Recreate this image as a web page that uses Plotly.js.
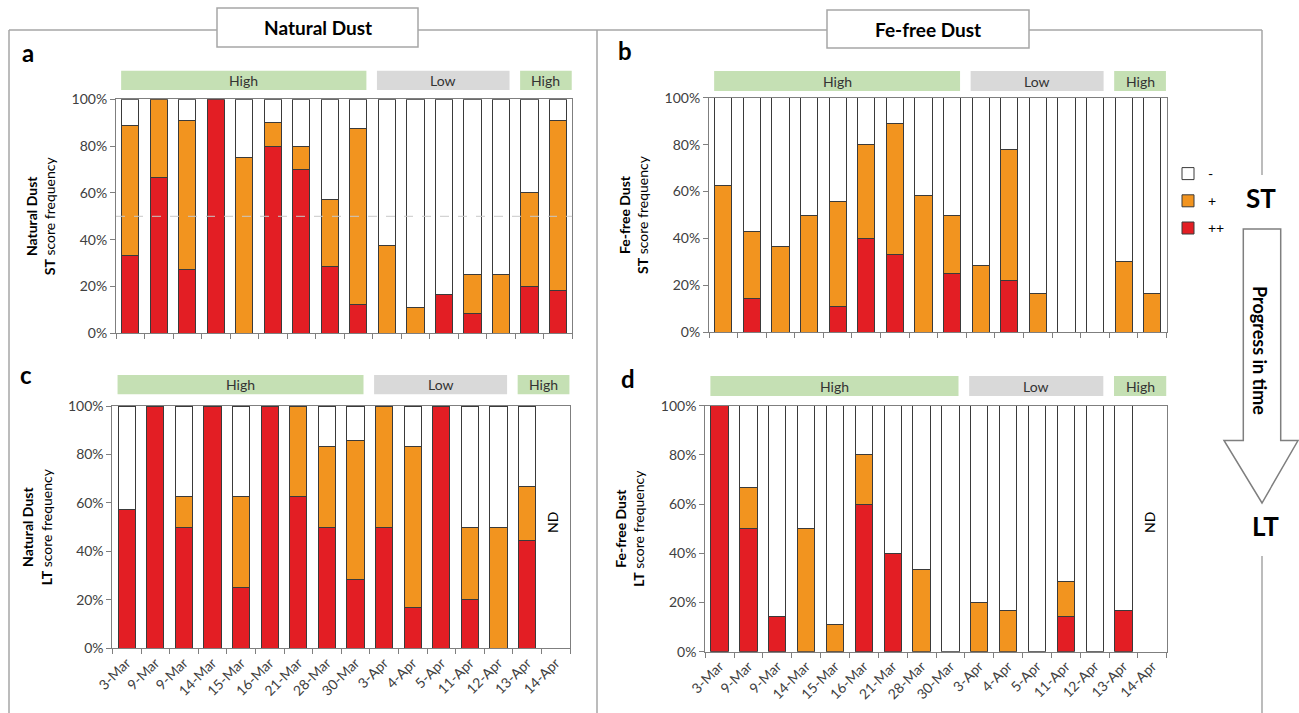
<!DOCTYPE html>
<html><head><meta charset="utf-8">
<script src="https://cdn.plot.ly/plotly-3.0.1.min.js"></script>
<style>html,body{margin:0;padding:0;background:#fff;} #chart{width:1299px;height:713px;}</style>
</head><body><div id="chart"></div>
<script>
// ---------- data ----------
const dates = ['3-Mar','9-Mar','9-Mar','14-Mar','15-Mar','16-Mar','21-Mar','28-Mar','30-Mar','3-Apr','4-Apr','5-Apr','11-Apr','12-Apr','13-Apr','14-Apr'];
const scoreNames = ['++', '+', '-'];
const periodLabels = ['High', 'Low', 'High'];
const yTickVals = [0, 20, 40, 60, 80, 100];
const yTickText = ['0%', '20%', '40%', '60%', '80%', '100%'];

// a: Natural Dust, ST
const natST_pp  = [33.3, 66.7, 27.3, 100, 0, 80, 70, 28.6, 12.5, 0, 0, 16.7, 8.3, 0, 20, 18.2];
const natST_p   = [55.6, 33.3, 63.6, 0, 75, 10, 10, 28.5, 75, 37.5, 11.1, 0, 16.7, 25, 40, 72.7];
const natST_neg = [11.1, 0, 9.1, 0, 25, 10, 20, 42.9, 12.5, 62.5, 88.9, 83.3, 75, 75, 40, 9.1];
// b: Fe-free Dust, ST
const feST_pp  = [0, 14.3, 0, 0, 11.1, 40, 33.3, 0, 25, 0, 22.2, 0, 0, 0, 0, 0];
const feST_p   = [62.5, 28.6, 36.4, 50, 44.5, 40, 55.6, 58.3, 25, 28.6, 55.6, 16.7, 0, 0, 30, 16.7];
const feST_neg = [37.5, 57.1, 63.6, 50, 44.4, 20, 11.1, 41.7, 50, 71.4, 22.2, 83.3, 100, 100, 70, 83.3];
// c: Natural Dust, LT (14-Apr: ND)
const natLT_pp  = [57.1, 100, 50, 100, 25, 100, 62.5, 50, 28.6, 50, 16.7, 100, 20, 0, 44.4, null];
const natLT_p   = [0, 0, 12.5, 0, 37.5, 0, 37.5, 33.3, 57.1, 50, 66.6, 0, 30, 50, 22.3, null];
const natLT_neg = [42.9, 0, 37.5, 0, 37.5, 0, 0, 16.7, 14.3, 0, 16.7, 0, 50, 50, 33.3, null];
// d: Fe-free Dust, LT (14-Apr: ND)
const feLT_pp  = [100, 50, 14.3, 0, 0, 60, 40, 0, 0, 0, 0, 0, 14.3, 0, 16.7, null];
const feLT_p   = [0, 16.7, 0, 50, 11.1, 20, 0, 33.3, 0, 20, 16.7, 0, 14.3, 0, 0, null];
const feLT_neg = [0, 33.3, 85.7, 50, 88.9, 20, 60, 66.7, 100, 80, 83.3, 100, 71.4, 100, 83.3, null];

// ---------- styling / layout helpers ----------
const W = 1299, H = 713;
const px = v => v / W;
const py = v => 1 - v / H;
const FONT = 'Lato, "Open Sans", sans-serif';
const colors = {'++': '#e31e24', '+': '#f2941f', '-': '#ffffff'};
const periodColors = ['#c5e0b4', '#d9d9d9', '#c5e0b4'];
const periodSpans = [[-0.32, 8.28], [8.65, 13.3], [13.67, 15.48]];
const xIdx = dates.map((d, i) => i);
const noZero = arr => arr.map(v => (v === 0 ? null : v)); // empty segments are not drawn

const panels = [
  {ax: '', letter: 'a', data: [natST_pp, natST_p, natST_neg], dom: [116, 572.3], ydom: [99.3, 333.3], lab: [70.7, 90], ytitle: '<b>Natural Dust</b><br><b>ST</b> score frequency', labels: false, letterPos: [28, 52]},
  {ax: '2', letter: 'b', data: [feST_pp, feST_p, feST_neg], dom: [709, 1166.5], ydom: [97.7, 332.3], lab: [71, 91], ytitle: '<b>Fe-free Dust</b><br><b>ST</b> score frequency', labels: false, letterPos: [625, 50]},
  {ax: '3', letter: 'c', data: [natLT_pp, natLT_p, natLT_neg], dom: [112.4, 570], ydom: [406, 648.3], lab: [375, 394.3], ytitle: '<b>Natural Dust</b><br><b>LT</b> score frequency', labels: true, letterPos: [26, 374], nd: [552, 523]},
  {ax: '4', letter: 'd', data: [feLT_pp, feLT_p, feLT_neg], dom: [705.2, 1166.8], ydom: [405.7, 651.7], lab: [376, 396], ytitle: '<b>Fe-free Dust</b><br><b>LT</b> score frequency', labels: true, letterPos: [628, 378], nd: [1149, 523]}
];

const traces = [];
const layout = {
  width: W, height: H,
  margin: {l: 0, r: 0, t: 0, b: 0},
  paper_bgcolor: '#ffffff', plot_bgcolor: '#ffffff',
  barmode: 'stack', bargap: 0.4,
  font: {family: FONT, size: 13, color: '#404040'},
  showlegend: true,
  legend: {x: px(1168), y: py(158), xanchor: 'left', yanchor: 'top', traceorder: 'grouped', tracegroupgap: 6,
           font: {family: FONT, size: 14, color: '#000'}, bgcolor: 'rgba(0,0,0,0)', itemwidth: 30},
  shapes: [], annotations: []
};

panels.forEach((p, k) => {
  const xa = 'x' + p.ax, ya = 'y' + p.ax;
  scoreNames.forEach((name, j) => {
    traces.push({
      type: 'bar', x: xIdx, y: noZero(p.data[j]), name: name, xaxis: xa, yaxis: ya,
      legendgroup: name, legendrank: 3 - j, showlegend: k === 1,
      marker: {color: colors[name], line: {color: '#3a3a3a', width: 1}},
      hovertemplate: '%{y}%<extra>' + name + '</extra>'
    });
  });
  layout['xaxis' + p.ax] = {
    domain: [px(p.dom[0]), px(p.dom[1])], anchor: ya, range: [-0.5, 15.5],
    tickmode: 'array', tickvals: xIdx, ticktext: dates, ticks: '', showticklabels: p.labels,
    tickangle: -45, tickfont: {family: FONT, size: 14, color: '#404040'},
    minor: {tickmode: 'linear', tick0: -0.5, dtick: 1, ticks: 'outside', ticklen: 5, tickcolor: '#7f7f7f', tickwidth: 1},
    showline: true, linecolor: '#7f7f7f', linewidth: 1, mirror: true,
    showgrid: false, zeroline: false, fixedrange: true, automargin: false
  };
  layout['yaxis' + p.ax] = {
    domain: [py(p.ydom[1]), py(p.ydom[0])], anchor: xa, range: [0, 100],
    tickmode: 'array', tickvals: yTickVals, ticktext: yTickText,
    ticks: 'outside', ticklen: 5, tickcolor: '#7f7f7f',
    tickfont: {family: FONT, size: 14, color: '#404040'},
    showline: true, linecolor: '#7f7f7f', linewidth: 1, mirror: true,
    showgrid: false, zeroline: false, fixedrange: true, automargin: false,
    title: {text: p.ytitle, font: {family: FONT, size: 14, color: '#000'}, standoff: 12}
  };
  // period boxes
  periodLabels.forEach((lab, i) => {
    const f0 = (periodSpans[i][0] + 0.5) / 16, f1 = (periodSpans[i][1] + 0.5) / 16;
    layout.shapes.push({type: 'rect', xref: xa + ' domain', yref: 'paper', x0: f0, x1: f1,
      y0: py(p.lab[1]), y1: py(p.lab[0]), fillcolor: periodColors[i], line: {width: 0}, layer: 'below'});
    layout.annotations.push({xref: xa + ' domain', yref: 'paper', x: (f0 + f1) / 2, y: py((p.lab[0] + p.lab[1]) / 2),
      text: lab, showarrow: false, font: {family: FONT, size: 14, color: '#333'}, xanchor: 'center', yanchor: 'middle'});
  });
  // panel letter
  layout.annotations.push({xref: 'paper', yref: 'paper', x: px(p.letterPos[0]), y: py(p.letterPos[1]), text: '<b>' + p.letter + '</b>',
    showarrow: false, font: {family: FONT, size: 24, color: '#000'}, xanchor: 'center', yanchor: 'middle'});
  if (p.nd) {
    layout.annotations.push({xref: 'paper', yref: 'paper', x: px(p.nd[0]), y: py(p.nd[1]), text: 'ND', textangle: -90,
      showarrow: false, font: {family: FONT, size: 14, color: '#000'}, xanchor: 'center', yanchor: 'middle'});
  }
});

// 50% dashed reference in panel a
layout.shapes.push({type: 'line', xref: 'x', yref: 'y', x0: -0.5, x1: 15.5, y0: 50, y1: 50,
  line: {color: '#c8c8c8', width: 1, dash: 'dash'}, layer: 'above'});

// frame lines
const frameColor = '#a6a6a6';
const seg = (x0, y0, x1, y1) => layout.shapes.push({type: 'line', xref: 'paper', yref: 'paper',
  x0: px(x0), y0: py(y0), x1: px(x1), y1: py(y1), line: {color: frameColor, width: 1.5}});
seg(9, 30, 217, 30); seg(418, 30, 827, 30); seg(1029, 30, 1262, 30);
seg(9, 30, 9, 713); seg(597, 30, 597, 713);
seg(1262, 30, 1262, 175); seg(1262, 556, 1262, 713);
// header boxes
[[217, 8, 418, 47, 'Natural Dust'], [827, 10, 1029, 48, 'Fe-free Dust']].forEach(b => {
  layout.shapes.push({type: 'rect', xref: 'paper', yref: 'paper', x0: px(b[0]), x1: px(b[2]), y0: py(b[3]), y1: py(b[1]),
    fillcolor: '#ffffff', line: {color: frameColor, width: 1.5}});
  layout.annotations.push({xref: 'paper', yref: 'paper', x: px((b[0] + b[2]) / 2), y: py((b[1] + b[3]) / 2),
    text: '<b>' + b[4] + '</b>', showarrow: false, font: {family: FONT, size: 19, color: '#000'}, xanchor: 'center', yanchor: 'middle'});
});
// time arrow
const arrowPts = [[1243.3, 229], [1280.7, 229], [1280.7, 440.5], [1298, 440.5], [1262, 503], [1224, 440.5], [1243.3, 440.5]];
layout.shapes.push({type: 'path', xref: 'paper', yref: 'paper',
  path: 'M' + arrowPts.map(q => px(q[0]) + ',' + py(q[1])).join(' L') + ' Z',
  fillcolor: '#ffffff', line: {color: '#7f7f7f', width: 1.5}});
layout.annotations.push({xref: 'paper', yref: 'paper', x: px(1260), y: py(350), text: '<b>Progress in time</b>', textangle: 90,
  showarrow: false, font: {family: FONT, size: 18, color: '#000'}, xanchor: 'center', yanchor: 'middle'});
layout.annotations.push({xref: 'paper', yref: 'paper', x: px(1261), y: py(198), text: '<b>ST</b>',
  showarrow: false, font: {family: FONT, size: 26, color: '#000'}, xanchor: 'center', yanchor: 'middle'});
layout.annotations.push({xref: 'paper', yref: 'paper', x: px(1265), y: py(526), text: '<b>LT</b>',
  showarrow: false, font: {family: FONT, size: 26, color: '#000'}, xanchor: 'center', yanchor: 'middle'});

Plotly.newPlot('chart', traces, layout, {displayModeBar: false, responsive: false});
</script>
</body></html>
